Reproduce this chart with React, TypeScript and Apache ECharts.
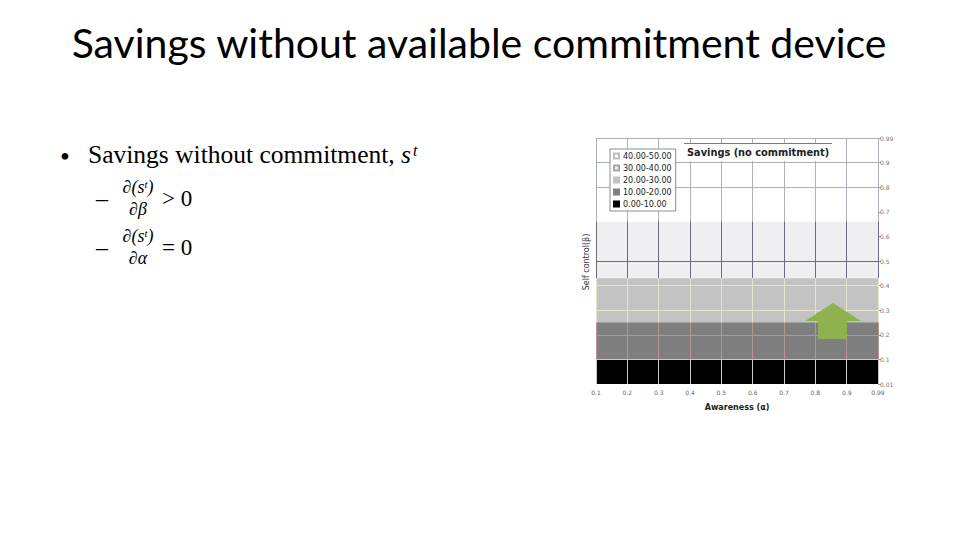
import * as echarts from 'echarts';
import { useEffect, useRef } from 'react';

// axis categories / tick labels
const alphaLabels = ['0.1', '0.2', '0.3', '0.4', '0.5', '0.6', '0.7', '0.8', '0.9', '0.99'];
const betaLabels = ['0.01', '0.1', '0.2', '0.3', '0.4', '0.5', '0.6', '0.7', '0.8', '0.9', '0.99'];
const betaValues = [0.01, 0.1, 0.2, 0.3, 0.4, 0.5, 0.6, 0.7, 0.8, 0.9, 0.99];

// upper edge (β) of each savings band, one value per α
const top40to50 = [0.99, 0.99, 0.99, 0.99, 0.99, 0.99, 0.99, 0.99, 0.99, 0.99];
const top30to40 = [0.66, 0.66, 0.66, 0.66, 0.66, 0.66, 0.66, 0.66, 0.66, 0.66];
const top20to30 = [0.43, 0.43, 0.43, 0.43, 0.43, 0.43, 0.43, 0.43, 0.43, 0.43];
const top10to20 = [0.25, 0.25, 0.25, 0.25, 0.25, 0.25, 0.25, 0.25, 0.25, 0.25];
const top0to10 = [0.1, 0.1, 0.1, 0.1, 0.1, 0.1, 0.1, 0.1, 0.1, 0.1];

const bandNames = ['40.00-50.00', '30.00-40.00', '20.00-30.00', '10.00-20.00', '0.00-10.00'];
const bandTops = [top40to50, top30to40, top20to30, top10to20, top0to10];
const bandColors = ['#ffffff', '#efeff1', '#c3c3c3', '#7f7f7f', '#000000'];
const legendBorders = ['#bdbdbd', '#a8a8a8', '#c3c3c3', '#7f7f7f', '#000000'];
// wireframe colour inside each band
const meshColors = ['#aab0b8', '#6c6c7e', '#e4e4cf', '#b39696', '#c6c8d2'];
// β rows of the wireframe that show in the picture
const meshRows = [0.1, 0.2, 0.3, 0.4, 0.5, 0.8, 0.9, 0.99];

// β -> position on the evenly spaced β axis
const betaToAxis = (b: number) => {
  for (let i = 0; i < betaValues.length - 1; i++) {
    if (b <= betaValues[i + 1]) {
      return i + (b - betaValues[i]) / (betaValues[i + 1] - betaValues[i]);
    }
  }
  return betaValues.length - 1;
};

export default function App() {
  const chartRef = useRef<HTMLDivElement>(null);

  useEffect(() => {
    if (!chartRef.current) return;
    const chart = echarts.init(chartRef.current, undefined, { renderer: 'svg' });

    const bandLow = (k: number, i: number) =>
      k === bandTops.length - 1 ? betaValues[0] : bandTops[k + 1][i];

    // wireframe segments
    const mesh: any[] = [];
    bandTops.forEach((tops, k) => {
      alphaLabels.forEach((a, i) => {
        mesh.push([
          { coord: [a, betaToAxis(bandLow(k, i))], lineStyle: { color: meshColors[k], width: 1, type: 'solid' } },
          { coord: [a, betaToAxis(tops[i])] },
        ]);
      });
    });
    meshRows.forEach((r) => {
      const k = bandTops.findIndex((tops, kk) => bandLow(kk, 0) < r && r <= tops[0]);
      mesh.push([
        { coord: [alphaLabels[0], betaToAxis(r)], lineStyle: { color: meshColors[k], width: 1, type: 'solid' } },
        { coord: [alphaLabels[alphaLabels.length - 1], betaToAxis(r)] },
      ]);
    });

    const serif = '"Liberation Serif", "DejaVu Serif", serif';

    const option = {
      animation: false,
      backgroundColor: '#ffffff',
      grid: { left: 596, top: 138, width: 282, height: 246, containLabel: false },
      legend: {
        data: bandNames.map((n) => ({ name: n, icon: 'rect' })),
        orient: 'vertical',
        left: 610,
        top: 149,
        z: 20,
        backgroundColor: '#ffffff',
        borderColor: '#8c8c8c',
        borderWidth: 1,
        padding: [3, 4, 3, 3],
        itemGap: 4,
        itemWidth: 5,
        itemHeight: 5,
        textStyle: { fontSize: 8, color: '#222', fontFamily: '"DejaVu Sans", sans-serif', padding: [0, 0, 0, -1] },
        selectedMode: false,
      },
      xAxis: {
        type: 'category',
        data: alphaLabels,
        boundaryGap: false,
        axisLine: { show: false },
        axisTick: { show: false },
        splitLine: { show: false },
        axisLabel: { fontSize: 6, color: '#666', margin: 5, fontFamily: '"DejaVu Sans", sans-serif' },
        name: 'Awareness (α)',
        nameLocation: 'middle',
        nameGap: 19,
        nameTextStyle: { fontSize: 8, fontWeight: 'bold', color: '#222', fontFamily: '"DejaVu Sans", sans-serif' },
      },
      yAxis: {
        type: 'value',
        position: 'right',
        min: 0,
        max: 10,
        interval: 1,
        axisLine: { show: false },
        axisTick: { show: true, length: 3, lineStyle: { color: '#999' } },
        splitLine: { show: false },
        axisLabel: {
          fontSize: 6,
          color: '#777',
          margin: 2,
          fontFamily: '"DejaVu Sans", sans-serif',
          formatter: (v: number) => betaLabels[v] ?? '',
        },
      },
      series: [
        ...bandTops.map((tops, k) => ({
          name: bandNames[k],
          type: 'line',
          data: tops.map(betaToAxis),
          symbol: 'none',
          silent: true,
          z: 2,
          lineStyle: { width: 0 },
          itemStyle: { color: bandColors[k], borderColor: legendBorders[k], borderWidth: 0.6 },
          areaStyle: { color: bandColors[k], opacity: 1, origin: 'start' },
        })),
        {
          name: 'mesh',
          type: 'line',
          data: alphaLabels.map(() => null),
          symbol: 'none',
          silent: true,
          markLine: {
            silent: true,
            symbol: ['none', 'none'],
            label: { show: false },
            z: 5,
            data: mesh,
          },
        },
      ],
      graphic: [
        // page title
        {
          type: 'text',
          x: 479,
          y: 42,
          style: {
            text: 'Savings without available commitment device',
            fill: '#000',
            fontSize: 41,
            fontFamily: 'Lato, "Open Sans", sans-serif',
            textAlign: 'center',
            textVerticalAlign: 'middle',
          },
        },
        // bullet
        {
          type: 'text',
          x: 60,
          y: 156,
          style: { text: '•', fill: '#000', fontSize: 28, fontFamily: serif, textVerticalAlign: 'middle' },
        },
        {
          type: 'text',
          x: 88,
          y: 152,
          style: {
            text: '{n|Savings without commitment, }{i|s}{sup|t}',
            fill: '#000',
            textVerticalAlign: 'middle',
            rich: {
              n: { fontSize: 25.5, fontFamily: serif, verticalAlign: 'bottom', lineHeight: 30 },
              i: { fontSize: 25.5, fontFamily: serif, fontStyle: 'italic', verticalAlign: 'bottom', lineHeight: 30 },
              sup: {
                fontSize: 16,
                fontFamily: serif,
                fontStyle: 'italic',
                verticalAlign: 'bottom',
                lineHeight: 30,
                padding: [0, 0, 9, 2],
              },
            },
          },
        },
        // dashes and derivatives
        ...[
          { y: 198, den: 'β', rel: '> 0' },
          { y: 247, den: 'α', rel: '= 0' },
        ].flatMap((row) => [
          {
            type: 'text',
            x: 96,
            y: row.y,
            style: { text: '–', fill: '#000', fontSize: 24, fontFamily: serif, textVerticalAlign: 'middle' },
          },
          {
            type: 'text',
            x: 138,
            y: row.y - 12,
            style: {
              text: '{i|∂(s}{sup|t}{i|)}',
              fill: '#000',
              textAlign: 'center',
              textVerticalAlign: 'middle',
              rich: {
                i: { fontSize: 18, fontFamily: serif, fontStyle: 'italic', verticalAlign: 'bottom', lineHeight: 20 },
                sup: {
                  fontSize: 11,
                  fontFamily: serif,
                  fontStyle: 'italic',
                  verticalAlign: 'bottom',
                  lineHeight: 20,
                  padding: [0, 0, 7, 0],
                },
              },
            },
          },
          {
            type: 'text',
            x: 138,
            y: row.y + 11,
            style: {
              text: '∂' + row.den,
              fill: '#000',
              fontSize: 18,
              fontStyle: 'italic',
              fontFamily: serif,
              textAlign: 'center',
              textVerticalAlign: 'middle',
            },
          },
          {
            type: 'text',
            x: 162,
            y: row.y,
            style: { text: row.rel, fill: '#000', fontSize: 23, fontFamily: serif, textVerticalAlign: 'middle' },
          },
        ]),
        // chart title box
        {
          type: 'rect',
          shape: { x: 684, y: 144, width: 148, height: 17 },
          style: { fill: '#ffffff' },
          z: 10,
        },
        {
          type: 'line',
          shape: { x1: 684, y1: 143.5, x2: 832, y2: 143.5 },
          style: { stroke: '#7a7a7a', lineWidth: 1 },
          z: 10,
        },
        {
          type: 'text',
          x: 687,
          y: 152,
          z: 11,
          style: {
            text: 'Savings (no commitment)',
            fill: '#222',
            fontSize: 9.8,
            fontWeight: 'bold',
            fontFamily: '"DejaVu Sans", sans-serif',
            textVerticalAlign: 'middle',
          },
        },
        // β axis name on the left
        {
          type: 'text',
          x: 586,
          y: 262,
          rotation: Math.PI / 2,
          style: {
            text: 'Self control(β)',
            fill: '#333',
            fontSize: 8,
            fontFamily: '"DejaVu Sans", sans-serif',
            textAlign: 'center',
            textVerticalAlign: 'middle',
          },
        },
        // green arrow
        {
          type: 'polygon',
          z: 12,
          shape: {
            points: [
              [833, 303],
              [861, 321],
              [847, 321],
              [847, 339],
              [818, 339],
              [818, 321],
              [805, 321],
            ],
          },
          style: { fill: '#8fb24f' },
        },
      ],
    };

    chart.setOption(option);
    return () => chart.dispose();
  }, []);

  return (
    <div
      ref={chartRef}
      style={{ position: 'absolute', left: 0, top: 0, width: 960, height: 540 }}
    />
  );
}
